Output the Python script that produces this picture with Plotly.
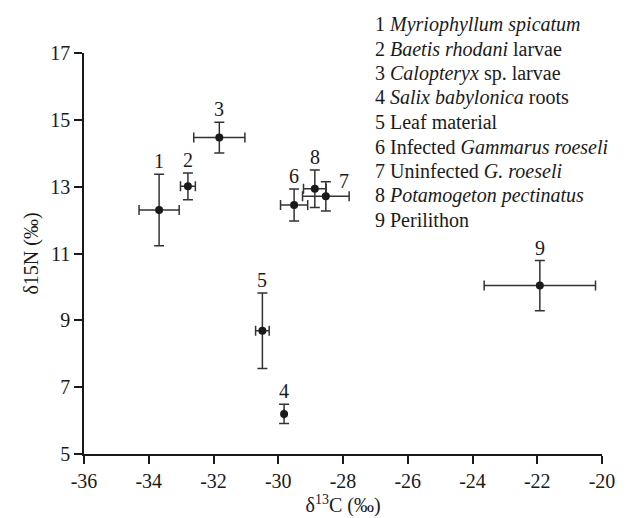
import plotly.graph_objects as go

labels = ["1", "2", "3", "4", "5", "6", "7", "8", "9"]
d13c = [-33.68, -32.79, -31.82, -29.82, -30.49, -29.51, -28.53, -28.87, -21.92]
d13c_sd = [0.62, 0.23, 0.79, 0.0, 0.21, 0.42, 0.72, 0.35, 1.72]
d15n = [12.30, 13.01, 14.47, 6.20, 8.69, 12.45, 12.71, 12.94, 10.04]
d15n_sd = [1.07, 0.40, 0.46, 0.29, 1.13, 0.48, 0.44, 0.56, 0.75]

legend_lines = [
    "1 <i>Myriophyllum spicatum</i>",
    "2 <i>Baetis rhodani</i> larvae",
    "3 <i>Calopteryx</i> sp. larvae",
    "4 <i>Salix babylonica</i> roots",
    "5 Leaf material",
    "6 Infected <i>Gammarus roeseli</i>",
    "7 Uninfected <i>G. roeseli</i>",
    "8 <i>Potamogeton pectinatus</i>",
    "9 Perilithon",
]

FONT = "Liberation Serif"
INK = "#1a1a1a"
FS = 20

fig = go.Figure()
fig.add_trace(go.Scatter(
    x=d13c, y=d15n, mode="markers",
    marker=dict(color=INK, size=8),
    error_x=dict(type="data", array=d13c_sd, visible=True, color="#333333", thickness=1.5, width=5),
    error_y=dict(type="data", array=d15n_sd, visible=True, color="#333333", thickness=1.5, width=5),
    showlegend=False, hoverinfo="skip",
))

annotations = []
for lab, x, y, sy in zip(labels, d13c, d15n, d15n_sd):
    if lab == "7":
        annotations.append(dict(x=x, y=y, xref="x", yref="y", text=lab, showarrow=False,
                                xanchor="left", yanchor="middle", xshift=11, yshift=15,
                                font=dict(family=FONT, size=FS, color=INK)))
    else:
        annotations.append(dict(x=x, y=y + sy, xref="x", yref="y", text=lab, showarrow=False,
                                xanchor="center", yanchor="bottom", yshift=0,
                                font=dict(family=FONT, size=FS, color=INK)))

# legend text block (pixel layout converted to paper coords)
plot_top, plot_bottom, plot_left, plot_right = 52.7, 456.0, 84.3, 604.0
for i, line in enumerate(legend_lines):
    pix_y = 24.0 + 24.6 * i
    annotations.append(dict(
        x=(374 - plot_left) / (plot_right - plot_left),
        y=(plot_bottom - pix_y) / (plot_bottom - plot_top),
        xref="paper", yref="paper", text=line, showarrow=False,
        xanchor="left", yanchor="middle",
        font=dict(family=FONT, size=20, color=INK)))

fig.update_layout(
    width=627, height=518,
    margin=dict(l=84, r=23, t=53, b=62),
    plot_bgcolor="white", paper_bgcolor="white",
    font=dict(family=FONT, size=FS, color=INK),
    annotations=annotations,
    xaxis=dict(range=[-36, -20], tickmode="array", tickvals=list(range(-36, -19, 2)),
               ticktext=[str(v) for v in range(-36, -19, 2)],
               showgrid=False, zeroline=False, showline=True, linecolor=INK, linewidth=1.5,
               ticks="outside", ticklen=8, tickwidth=1.5, tickcolor=INK,
               tickfont=dict(family=FONT, size=FS, color=INK),
               title=dict(text="δ<sup>13</sup>C (‰)", font=dict(family=FONT, size=FS, color=INK), standoff=0)),
    yaxis=dict(range=[5, 17], tickmode="array", tickvals=list(range(5, 18, 2)),
               showgrid=False, zeroline=False, showline=True, linecolor=INK, linewidth=1.5,
               ticks="outside", ticklen=8, tickwidth=1.5, tickcolor=INK,
               tickfont=dict(family=FONT, size=FS, color=INK),
               title=dict(text="δ15N (‰)", font=dict(family=FONT, size=FS, color=INK), standoff=6)),
)

fig.write_html("out.html")
